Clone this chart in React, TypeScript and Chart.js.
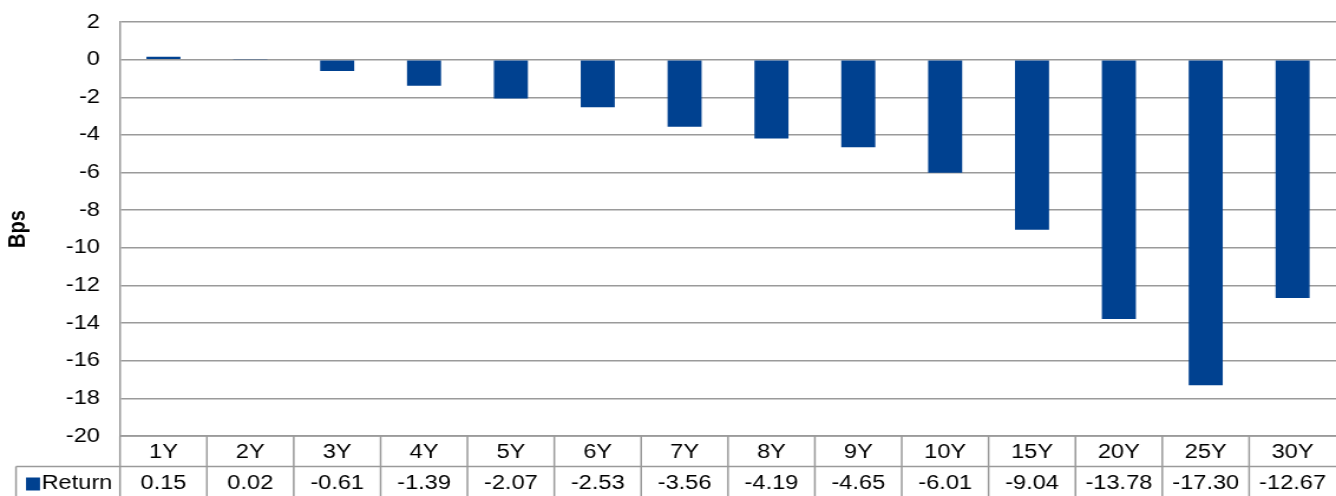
import React, { useEffect, useRef } from 'react';
import { Chart, registerables } from 'chart.js';

Chart.register(...registerables);

// ---- data ----
const categories: string[] = ['1Y', '2Y', '3Y', '4Y', '5Y', '6Y', '7Y', '8Y', '9Y', '10Y', '15Y', '20Y', '25Y', '30Y'];
const returns: number[] = [0.15, 0.02, -0.61, -1.39, -2.07, -2.53, -3.56, -4.19, -4.65, -6.01, -9.04, -13.78, -17.3, -12.67];
const seriesLabel = 'Return';
const yAxisTitle = 'Bps';
const yMin = -20;
const yMax = 2;
const yStep = 2;

// ---- look ----
const OUT_W = 1336;
const OUT_H = 496;
const STRETCH = 1.18;
const CANVAS_W = Math.round(OUT_W / STRETCH);
const BAR_COLOR = '#004190';
const LINE_COLOR = '#9a9a9a';
const FONT_FAMILY = '"Liberation Sans", Arial, sans-serif';

const tablePlugin = {
  id: 'dataTable',
  afterDraw(chart: any) {
    const { ctx, chartArea } = chart;
    const xs = chart.scales.x;
    const n = categories.length;
    const colW = (chartArea.right - chartArea.left) / n;
    const top = chartArea.bottom;
    const mid = 466.5;
    const bot = OUT_H;
    const legendLeft = 16 / STRETCH;
    ctx.save();
    ctx.strokeStyle = LINE_COLOR;
    ctx.lineWidth = 1.5;
    ctx.beginPath();
    ctx.moveTo(chartArea.left, top);
    ctx.lineTo(chartArea.right, top);
    ctx.moveTo(legendLeft, mid);
    ctx.lineTo(chartArea.right, mid);
    for (let i = 0; i < n; i++) {
      const x = xs.getPixelForValue(i) - colW / 2;
      ctx.moveTo(x, top);
      ctx.lineTo(x, bot);
    }
    ctx.moveTo(legendLeft, mid);
    ctx.lineTo(legendLeft, bot);
    ctx.stroke();

    ctx.fillStyle = '#000';
    ctx.font = `20px ${FONT_FAMILY}`;
    ctx.textAlign = 'center';
    ctx.textBaseline = 'middle';
    for (let i = 0; i < n; i++) {
      const cx = xs.getPixelForValue(i);
      ctx.fillText(categories[i], cx, 452);
      ctx.fillText(returns[i].toFixed(2), cx, 483);
    }
    // legend key
    ctx.fillStyle = BAR_COLOR;
    ctx.fillRect(26 / STRETCH, 477.5, 14 / STRETCH, 13);
    ctx.fillStyle = '#000';
    ctx.textAlign = 'left';
    ctx.fillText(seriesLabel, 41.5 / STRETCH, 483);
    ctx.restore();
  },
};

export default function App() {
  const ref = useRef<HTMLCanvasElement | null>(null);

  useEffect(() => {
    if (!ref.current) return;
    const chart = new Chart(ref.current, {
      type: 'bar',
      data: {
        labels: categories,
        datasets: [
          {
            label: seriesLabel,
            data: returns,
            backgroundColor: BAR_COLOR,
            borderWidth: 0,
            barPercentage: 0.392,
            categoryPercentage: 1,
          },
        ],
      },
      options: {
        animation: false,
        responsive: false,
        devicePixelRatio: 1,
        layout: { padding: { top: 22, bottom: OUT_H - 436, left: 0, right: 0 } },
        plugins: { legend: { display: false }, tooltip: { enabled: false } },
        scales: {
          x: { display: false },
          y: {
            min: yMin,
            max: yMax,
            afterFit: (scale: any) => {
              scale.width = 120 / STRETCH;
              scale.paddingTop = 0;
              scale.paddingBottom = 0;
            },
            ticks: {
              stepSize: yStep,
              color: '#000',
              padding: 17,
              font: { family: FONT_FAMILY, size: 20 },
            },
            grid: { color: LINE_COLOR, lineWidth: 1.5, drawTicks: false },
            border: { display: true, color: LINE_COLOR, width: 1.5 },
            title: {
              display: true,
              text: yAxisTitle,
              color: '#000',
              padding: { top: 3, bottom: 0 },
              font: { family: FONT_FAMILY, size: 20, weight: 'bold' },
            },
          },
        },
      },
      plugins: [tablePlugin],
    });
    return () => chart.destroy();
  }, []);

  return (
    <div style={{ position: 'fixed', left: 0, top: 0, width: OUT_W, height: OUT_H, background: '#fff' }}>
      <canvas
        ref={ref}
        width={CANVAS_W}
        height={OUT_H}
        style={{ display: 'block', width: `${OUT_W}px`, height: `${OUT_H}px` }}
      />
    </div>
  );
}
